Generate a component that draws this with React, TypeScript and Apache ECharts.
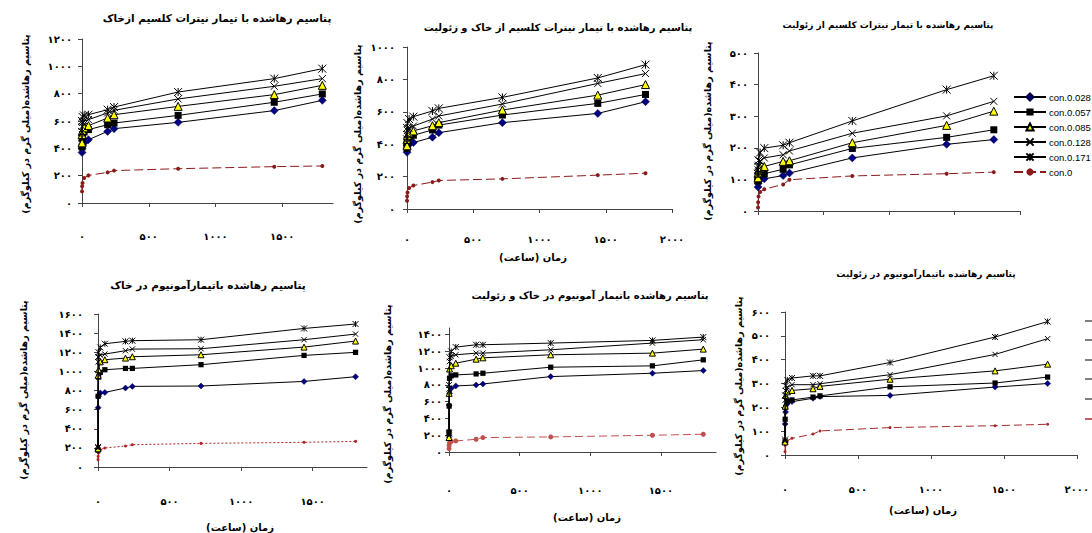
import React, { useEffect, useRef } from 'react';
import * as echarts from 'echarts';

// time (hours) of each sampling
const HOURS = [0.25, 1, 4, 16, 48, 192, 240, 720, 1440, 1800];
const SERIES_NAMES = ['con.0.028', 'con.0.057', 'con.0.085', 'con.0.128', 'con.0.171', 'con.0'];

// 1: calcium nitrate, soil
const caSoil028 = [370, 400, 420, 440, 463, 524, 544, 590, 676, 751];
const caSoil057 = [410, 470, 500, 520, 537, 573, 585, 641, 737, 798];
const caSoil085 = [440, 500, 530, 550, 566, 622, 646, 707, 793, 861];
const caSoil128 = [480, 560, 590, 600, 610, 659, 678, 761, 854, 910];
const caSoil171 = [520, 600, 630, 640, 646, 683, 702, 812, 910, 983];
const caSoil0 = [85, 122, 146, 183, 202, 224, 237, 251, 266, 271];

// 2: calcium nitrate, soil + zeolite
const caMix028 = [350, 375, 390, 400, 410, 443, 471, 533, 590, 662];
const caMix057 = [375, 405, 425, 445, 455, 488, 518, 580, 652, 707];
const caMix085 = [390, 430, 455, 470, 482, 514, 533, 611, 703, 768];
const caMix128 = [410, 460, 485, 500, 512, 555, 574, 648, 775, 836];
const caMix171 = [430, 500, 530, 555, 570, 605, 621, 689, 809, 891];
const caMix0 = [51, 78, 102, 129, 145, 166, 176, 186, 209, 221];

// 3: calcium nitrate, zeolite
const caZeo028 = [76, 88, 96, 100, 102, 112, 120, 168, 211, 226];
const caZeo057 = [95, 105, 112, 116, 118, 132, 146, 198, 233, 257];
const caZeo085 = [105, 120, 130, 137, 141, 157, 159, 216, 271, 316];
const caZeo128 = [112, 130, 145, 158, 168, 178, 190, 246, 301, 347];
const caZeo171 = [118, 140, 160, 185, 199, 208, 216, 285, 384, 428];
const caZeo0 = [11, 28, 46, 60, 69, 84, 99, 111, 118, 123];

// 4: ammonium, soil
const amSoil028 = [170, 620, 740, 775, 780, 826, 843, 847, 895, 944];
const amSoil057 = [180, 740, 940, 990, 1017, 1031, 1031, 1070, 1167, 1199];
const amSoil085 = [190, 958, 1017, 1100, 1122, 1139, 1153, 1174, 1254, 1317];
const amSoil128 = [200, 1100, 1150, 1170, 1181, 1216, 1233, 1237, 1331, 1390];
const amSoil171 = [210, 1150, 1200, 1250, 1289, 1314, 1321, 1331, 1449, 1495];
const amSoil0 = [77, 111, 146, 181, 199, 220, 233, 247, 258, 268];

// 5: ammonium, soil + zeolite
const amMix028 = [200, 560, 700, 760, 788, 800, 812, 900, 940, 972];
const amMix057 = [240, 548, 880, 910, 920, 932, 940, 1012, 1028, 1100];
const amMix085 = [173, 700, 990, 1030, 1060, 1108, 1124, 1160, 1180, 1228];
const amMix128 = [200, 750, 1080, 1140, 1160, 1180, 1180, 1220, 1300, 1340];
const amMix171 = [220, 800, 1130, 1200, 1252, 1280, 1280, 1300, 1332, 1372];
const amMix0 = [40, 80, 110, 125, 132, 152, 172, 180, 200, 212];

// 6: ammonium, zeolite
const amZeo028 = [50, 130, 180, 215, 224, 238, 245, 250, 285, 300];
const amZeo057 = [55, 150, 200, 225, 231, 243, 248, 286, 302, 327];
const amZeo085 = [55, 205, 250, 265, 271, 278, 288, 318, 353, 381];
const amZeo128 = [60, 230, 270, 285, 295, 295, 299, 337, 422, 488];
const amZeo171 = [65, 250, 290, 315, 323, 332, 332, 388, 495, 560];
const amZeo0 = [14, 40, 52, 60, 70, 88, 101, 115, 123, 129];

const TITLES = [
  'پتاسیم رهاشده با تیمار نیترات کلسیم ازخاک',
  'پتاسیم رهاشده با تیمار نیترات کلسیم از خاک و زئولیت',
  'پتاسیم رهاشده با تیمار نیترات کلسیم از زئولیت',
  'پتاسیم رهاشده باتیمارآمونیوم در خاک',
  'پتاسیم رهاشده باتیمار آمونیوم در خاک و زئولیت',
  'پتاسیم رهاشده باتیمارآمونیوم در زئولیت',
];
const Y_NAME = 'پتاسیم رهاشده(میلی گرم در کیلوگرم)';
const X_NAME = 'زمان (ساعت)';

const FA_FONT = '"DejaVu Sans", sans-serif';
const fa = (v: number) => String(v).replace(/\d/g, (d) => '۰۱۲۳۴۵۶۷۸۹'[+d]);
const steps = (max: number, step: number) => {
  const a: number[] = [];
  for (let v = 0; v <= max; v += step) a.push(v);
  return a;
};

const X_PATH = 'path://M0,0L10,10M10,0L0,10';
const STAR_PATH = 'path://M0,0L10,10M10,0L0,10M5,0L5,10';

const PANELS = [
  { values: [caSoil028, caSoil057, caSoil085, caSoil128, caSoil171, caSoil0], grid: { left: 82, top: 39, width: 251, height: 164 }, xMax: 1880, xTicks: [0, 500, 1000, 1500], xLabel: true, xMargin: 28, yMax: 1200, yTicks: steps(1200, 200), yMargin: 10, big: true, redDash: [9, 4], redColor: '#8B1A1A', redSize: 4 },
  { values: [caMix028, caMix057, caMix085, caMix128, caMix171, caMix0], grid: { left: 407, top: 47, width: 265, height: 162 }, xMax: 2000, xTicks: [0, 500, 1000, 1500, 2000], xLabel: true, xMargin: 25, yMax: 1000, yTicks: steps(1000, 200), yMargin: 12, big: true, redDash: [9, 4], redColor: '#8B1A1A', redSize: 4 },
  { values: [caZeo028, caZeo057, caZeo085, caZeo128, caZeo171, caZeo0], grid: { left: 758, top: 53, width: 262, height: 158 }, xMax: 2000, xTicks: [0, 500, 1000, 1500, 2000], xLabel: false, xMargin: 25, yMax: 500, yTicks: steps(500, 100), yMargin: 10, big: true, redDash: [9, 4], redColor: '#8B1A1A', redSize: 4 },
  { values: [amSoil028, amSoil057, amSoil085, amSoil128, amSoil171, amSoil0], grid: { left: 98, top: 314, width: 269, height: 153 }, xMax: 1880, xTicks: [0, 500, 1000, 1500], xLabel: true, xMargin: 29, yMax: 1600, yTicks: steps(1600, 200), yMargin: 15, big: false, redDash: [2, 2], redColor: '#B22222', redSize: 3 },
  { values: [amMix028, amMix057, amMix085, amMix128, amMix171, amMix0], grid: { left: 449, top: 328, width: 267, height: 124 }, xMax: 1890, xTicks: [0, 500, 1000, 1500], xLabel: true, xMargin: 33, yMax: 1480, yTicks: steps(1400, 200), yMargin: 7, big: false, redDash: [8, 4], redColor: '#C0504D', redSize: 5 },
  { values: [amZeo028, amZeo057, amZeo085, amZeo128, amZeo171, amZeo0], grid: { left: 785, top: 312, width: 293, height: 143 }, xMax: 2000, xTicks: [0, 500, 1000, 1500, 2000], xLabel: true, xMargin: 29, yMax: 600, yTicks: steps(600, 100), yMargin: 15, big: false, redDash: [8, 4], redColor: '#A52A2A', redSize: 3 },
];

const TITLE_POS = [
  { x: 217, y: 18, size: 10.5 },
  { x: 558, y: 27, size: 10 },
  { x: 888, y: 25, size: 9 },
  { x: 208, y: 285, size: 10.5 },
  { x: 590, y: 295, size: 10 },
  { x: 926, y: 274, size: 9 },
];
const YNAME_POS = [
  { x: 25, y: 124 },
  { x: 357, y: 134 },
  { x: 707, y: 131 },
  { x: 23, y: 390 },
  { x: 387, y: 394 },
  { x: 738, y: 386 },
];
const XNAME_POS = [
  { x: 533, y: 257 },
  { x: 240, y: 527 },
  { x: 587, y: 517 },
  { x: 923, y: 510 },
];

const AXIS_COLOR = '#444';

function buildOption() {
  const grid: any[] = [];
  const xAxis: any[] = [];
  const yAxis: any[] = [];
  const series: any[] = [];

  PANELS.forEach((p, i) => {
    grid.push({ ...p.grid, containLabel: false });
    xAxis.push({
      gridIndex: i,
      type: 'value',
      min: 0,
      max: p.xMax,
      axisLine: { show: true, onZero: false, lineStyle: { color: AXIS_COLOR, width: 1 } },
      axisTick: { show: true, length: 4, customValues: p.xTicks, lineStyle: { color: AXIS_COLOR } },
      axisLabel: {
        show: p.xLabel,
        customValues: p.xTicks,
        formatter: (v: number) => fa(v),
        margin: p.xMargin,
        fontSize: 10,
        fontWeight: 'bold',
        fontFamily: FA_FONT,
        color: '#000',
      },
      splitLine: { show: false },
    });
    yAxis.push({
      gridIndex: i,
      type: 'value',
      min: 0,
      max: p.yMax,
      axisLine: { show: true, onZero: false, lineStyle: { color: AXIS_COLOR, width: 1 } },
      axisTick: { show: true, length: 4, customValues: p.yTicks, lineStyle: { color: AXIS_COLOR } },
      axisLabel: {
        customValues: p.yTicks,
        formatter: (v: number) => fa(v),
        margin: p.yMargin,
        fontSize: 10,
        fontWeight: 'bold',
        fontFamily: FA_FONT,
        color: '#000',
      },
      splitLine: { show: false },
    });

    const s = p.big ? 1 : 0.75;
    const styles = [
      { symbol: 'diamond', size: 8 * s, color: '#000080', border: '#000040', bw: 0.5 },
      { symbol: 'rect', size: 7 * s, color: '#000', border: '#000', bw: 0 },
      { symbol: 'triangle', size: 8 * s, color: '#FFFF00', border: '#000', bw: 1 },
      { symbol: X_PATH, size: 7 * s, color: '#000', border: '#000', bw: 1 },
      { symbol: STAR_PATH, size: 8 * s, color: '#000', border: '#000', bw: 1 },
      { symbol: 'circle', size: p.redSize, color: p.redColor, border: p.redColor, bw: 0 },
    ];

    p.values.forEach((vals, k) => {
      const st = styles[k];
      const isRed = k === 5;
      series.push({
        type: 'line',
        name: SERIES_NAMES[k],
        xAxisIndex: i,
        yAxisIndex: i,
        data: HOURS.map((t, j) => [t, vals[j]]),
        symbol: st.symbol,
        symbolSize: st.size,
        showAllSymbol: true,
        itemStyle: { color: st.color, borderColor: st.border, borderWidth: st.bw },
        lineStyle: isRed
          ? { color: p.redColor, width: 1, type: p.redDash }
          : { color: '#000', width: 1 },
        z: isRed ? 2 : 3 + k,
        emphasis: { disabled: true },
      });
    });
  });

  const graphic: any[] = [];
  TITLES.forEach((t, i) => {
    graphic.push({
      type: 'text',
      x: TITLE_POS[i].x,
      y: TITLE_POS[i].y,
      style: { text: t, fontSize: TITLE_POS[i].size, fontWeight: 'bold', fontFamily: FA_FONT, fill: '#000', align: 'center', verticalAlign: 'middle' },
    });
  });
  YNAME_POS.forEach((p) => {
    graphic.push({
      type: 'text',
      x: p.x,
      y: p.y,
      rotation: Math.PI / 2,
      style: { text: Y_NAME, fontSize: 9.5, fontWeight: 'bold', fontFamily: FA_FONT, fill: '#000', align: 'center', verticalAlign: 'middle' },
    });
  });
  XNAME_POS.forEach((p) => {
    graphic.push({
      type: 'text',
      x: p.x,
      y: p.y,
      style: { text: X_NAME, fontSize: 10, fontWeight: 'bold', fontFamily: FA_FONT, fill: '#000', align: 'center', verticalAlign: 'middle' },
    });
  });
  // clipped legend swatches of the last panel at the right edge
  [321, 340, 360, 379, 399, 419].forEach((y, k) => {
    graphic.push({
      type: 'line',
      shape: { x1: 1085, y1: y, x2: 1092, y2: y },
      style: { stroke: k === 5 ? '#A52A2A' : '#555', lineWidth: 1.5 },
    });
  });

  return {
    animation: false,
    backgroundColor: '#fff',
    grid,
    xAxis,
    yAxis,
    series,
    graphic,
    legend: {
      data: SERIES_NAMES,
      orient: 'vertical',
      left: 1008,
      top: 87,
      itemWidth: 32,
      itemHeight: 9,
      itemGap: 5,
      selectedMode: false,
      textStyle: { fontFamily: '"Liberation Sans", Arial, sans-serif', fontSize: 9.5, color: '#000', padding: [0, 0, 0, -2] },
    },
  };
}

export default function App() {
  const ref = useRef<HTMLDivElement>(null);
  useEffect(() => {
    if (!ref.current) return;
    const chart = echarts.init(ref.current, undefined, { renderer: 'svg' });
    chart.setOption(buildOption() as any);
    return () => chart.dispose();
  }, []);
  return (
    <div
      ref={ref}
      style={{ position: 'fixed', left: 0, top: 0, width: 1092, height: 533, background: '#fff' }}
    />
  );
}
